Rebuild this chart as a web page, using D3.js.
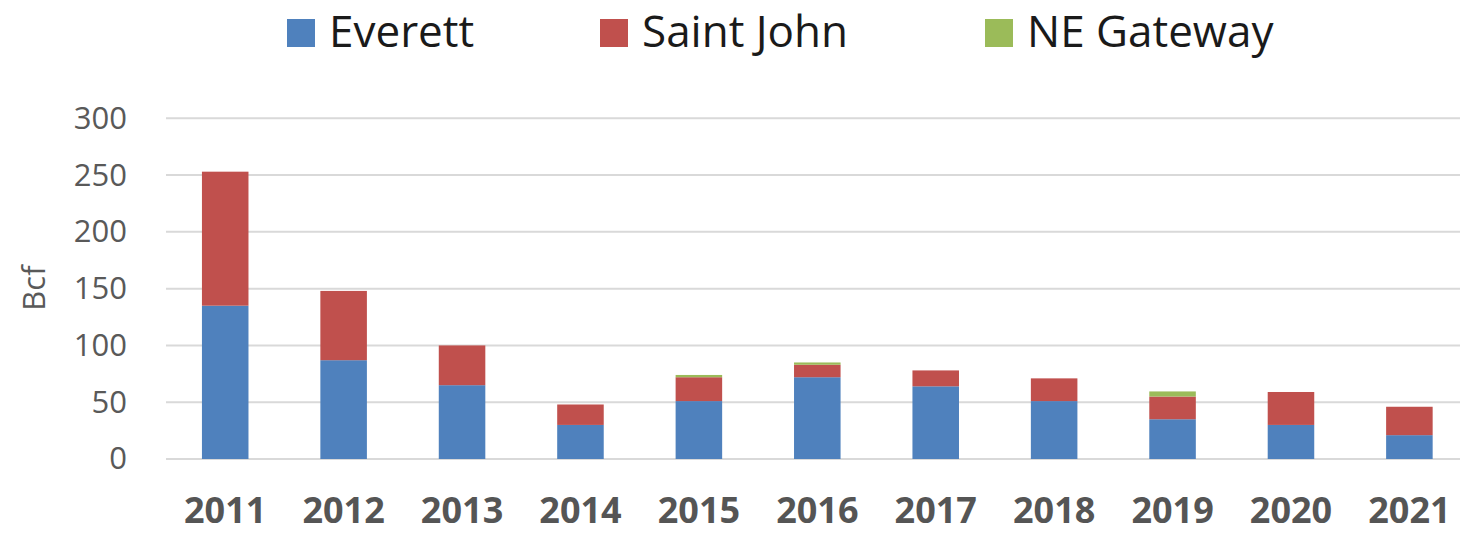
<!DOCTYPE html>
<html>
<head>
<meta charset="utf-8">
<script src="https://cdn.jsdelivr.net/npm/d3@7"></script>
<style>
	body { margin: 0; background: #ffffff; }
	svg { display: block; font-family: "Open Sans", sans-serif; }
</style>
</head>
<body>
<div id="chart"></div>
<script>
// chart data
var years = ["2011","2012","2013","2014","2015","2016","2017","2018","2019","2020","2021"];
var everett = [135, 87, 65, 30, 51, 72, 64, 51, 35, 30, 21];
var saintJohn = [118, 61, 35, 18, 21, 11, 14, 20, 20, 29, 25];
var neGateway = [0, 0, 0, 0, 2, 2, 0, 0, 4.5, 0, 0];
var seriesNames = ["Everett", "Saint John", "NE Gateway"];
var yTicks = [0, 50, 100, 150, 200, 250, 300];

var colors = ["#4f81bd", "#c0504d", "#9bbb59"];
var width = 1460, height = 533;

var svg = d3.select('#chart')
	.append('svg')
	.attr('width', width)
	.attr('height', height);

var x = d3.scaleBand()
	.domain(years)
	.range([166, 1468.6])
	.paddingInner(0.607)
	.paddingOuter(0.3035);

var y = d3.scaleLinear()
	.domain([0, 300])
	.range([459, 118.3]);

// gridlines
svg.append('g')
	.selectAll('line')
	.data(yTicks)
	.enter()
	.append('line')
	.attr('x1', 166)
	.attr('x2', width)
	.attr('y1', function(d){ return y(d); })
	.attr('y2', function(d){ return y(d); })
	.attr('stroke', '#d9d9d9')
	.attr('stroke-width', 2);

// y axis labels
var yAxis = d3.axisLeft(y).tickValues(yTicks).tickSize(0).tickPadding(0);
var gy = svg.append('g')
	.attr('transform', 'translate(127,0)')
	.call(yAxis);
gy.select('.domain').remove();
gy.selectAll('text')
	.attr('fill', '#595959')
	.style('font-size', '31px')
	.style('font-family', '"Open Sans", sans-serif');

// x axis labels
var xAxis = d3.axisBottom(x).tickSize(0).tickPadding(0);
var gx = svg.append('g')
	.attr('transform', 'translate(0,459)')
	.call(xAxis);
gx.select('.domain').remove();
gx.selectAll('text')
	.attr('dy', null)
	.attr('y', 64)
	.attr('fill', '#555555')
	.style('font-size', '36px')
	.style('font-weight', 'bold')
	.style('font-family', '"Open Sans", sans-serif');

// stacked bars
var rows = years.map(function(yr, i){
	return { year: yr, "Everett": everett[i], "Saint John": saintJohn[i], "NE Gateway": neGateway[i] };
});
var stacked = d3.stack().keys(seriesNames)(rows);

svg.append('g')
	.selectAll('g')
	.data(stacked)
	.enter()
	.append('g')
	.attr('fill', function(d, i){ return colors[i]; })
	.selectAll('rect')
	.data(function(d){ return d; })
	.enter()
	.append('rect')
	.attr('x', function(d){ return x(d.data.year); })
	.attr('width', x.bandwidth())
	.attr('y', function(d){ return y(d[1]); })
	.attr('height', function(d){ return y(d[0]) - y(d[1]); });

// y axis title
svg.append('text')
	.attr('transform', 'translate(45,288) rotate(-90)')
	.attr('text-anchor', 'middle')
	.attr('fill', '#595959')
	.style('font-size', '31px')
	.text('Bcf');

// legend
var legendX = [287, 600, 985];
var legend = svg.append('g')
	.selectAll('g')
	.data(seriesNames)
	.enter()
	.append('g')
	.attr('transform', function(d, i){ return 'translate(' + legendX[i] + ',0)'; });
legend.append('rect')
	.attr('x', 0)
	.attr('y', 19)
	.attr('width', 28)
	.attr('height', 28)
	.attr('fill', function(d, i){ return colors[i]; });
legend.append('text')
	.attr('x', 42)
	.attr('y', 47)
	.attr('fill', '#1a1a1a')
	.style('font-size', '44px')
	.text(function(d){ return d; });
</script>
</body>
</html>
